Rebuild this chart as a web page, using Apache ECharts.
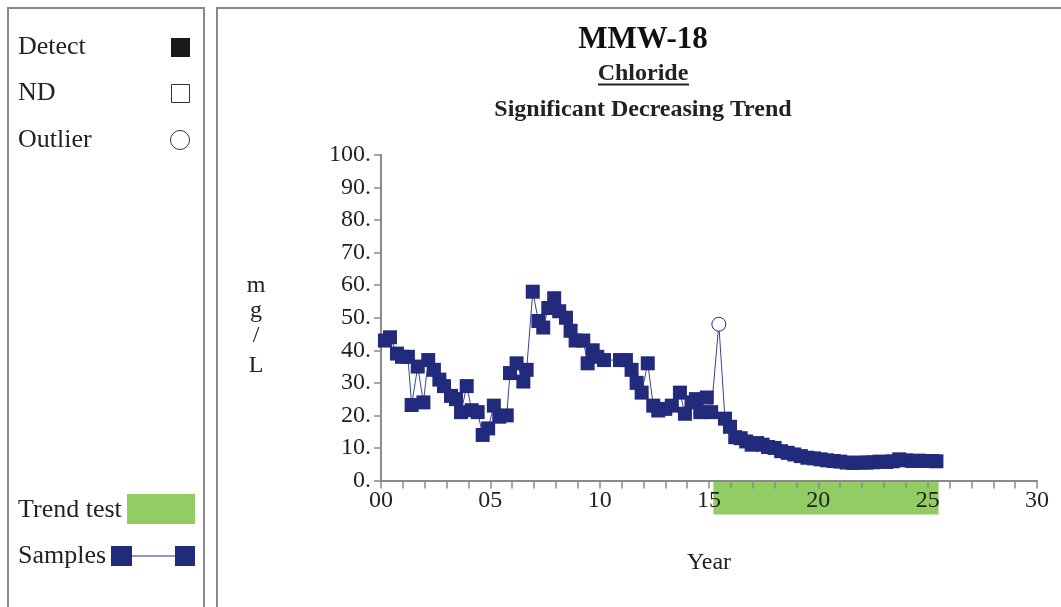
<!DOCTYPE html>
<html><head><meta charset="utf-8">
<script src="https://cdn.jsdelivr.net/npm/echarts@6/dist/echarts.min.js"></script>
<style>html,body{margin:0;padding:0;background:#fff}#c{width:1061px;height:607px}</style>
</head><body><div id="c"></div>
<script>
// ---- data ----
const years = [0.18,0.41,0.73,0.96,1.23,1.40,1.68,1.94,2.16,2.42,2.67,2.88,3.20,3.43,3.66,3.92,4.15,4.42,4.65,4.90,5.16,5.41,5.75,5.90,6.20,6.51,6.66,6.94,7.20,7.42,7.65,7.92,8.15,8.46,8.67,8.90,9.25,9.45,9.68,9.89,10.20,10.93,11.20,11.46,11.69,11.92,12.20,12.45,12.68,13.00,13.30,13.67,13.90,14.20,14.40,14.60,14.90,15.10,15.45,15.73,15.96,16.20,16.45,16.70,16.95,17.20,17.45,17.70,18.00,18.30,18.60,18.90,19.20,19.50,19.80,20.10,20.40,20.70,21.00,21.30,21.60,21.90,22.20,22.50,22.80,23.10,23.40,23.70,24.00,24.30,24.60,24.90,25.20,25.40];
const values = [43,44,39,38,38,23.2,35,24,37,34,31,29,26,25,21,29,21.6,21,14,16,23,19.6,20,33,36,30.4,34,58,49,47,53,56,52,50,46,43,43,36,40,38,37,37,37,34,30,27,36,23,21.5,22,23,27,20.5,24,25,21,25.5,21,48,19,16.5,13.3,13,12,11,11.5,11,10.3,10,9,8.5,8,7.5,7,6.8,6.5,6.2,6,5.8,5.5,5.4,5.5,5.5,5.6,5.8,5.7,5.9,6.5,6.2,6,6.1,6,6,5.9];
const outlierYears = [15.45];
const trendTest = [15.2, 25.5];
const xTicks = ['00','05','10','15','20','25','30'];
const yLabelChars = ['m','g','/','L'];

const navy = '#222a7b';
const serif = '"Liberation Serif","Times New Roman",serif';
const all = years.map((t,i)=>[t, values[i]]);
const detects = all.filter(p=>!outlierYears.includes(p[0]));
const outliers = all.filter(p=>outlierYears.includes(p[0]));

const chart = echarts.init(document.getElementById('c'));
const gray = '#8a8a8a';
const txt = (x,y,s,font,align)=>({type:'text', x:x, y:y, style:{text:s, font:font, fill:'#222', textAlign:align||'left', textVerticalAlign:'middle'}});
const graphics = [
  {type:'rect', shape:{x:8,y:8,width:196,height:620}, style:{fill:'none',stroke:gray,lineWidth:2}, z:-10},
  {type:'rect', shape:{x:217,y:8,width:860,height:620}, style:{fill:'none',stroke:gray,lineWidth:2}, z:-10},
  txt(18,47,'Detect','26px '+serif),
  {type:'rect', shape:{x:171,y:38,width:19,height:19}, style:{fill:'#1a1a1a'}},
  txt(18,93,'ND','26px '+serif),
  {type:'rect', shape:{x:171.5,y:84.5,width:18,height:18}, style:{fill:'#fff',stroke:'#333',lineWidth:1}},
  txt(18,140,'Outlier','26px '+serif),
  {type:'circle', shape:{cx:180,cy:140,r:9.5}, style:{fill:'#fff',stroke:'#333',lineWidth:1}},
  txt(18,510,'Trend test','26px '+serif),
  {type:'rect', shape:{x:127,y:494,width:68,height:30}, style:{fill:'#92cd64'}},
  txt(18,556,'Samples','26px '+serif),
  {type:'line', shape:{x1:122,y1:556,x2:185,y2:556}, style:{stroke:'#6c73b0',lineWidth:1.5}},
  {type:'rect', shape:{x:111,y:546,width:21,height:20}, style:{fill:navy}},
  {type:'rect', shape:{x:175,y:546,width:20,height:20}, style:{fill:navy}},
  {type:'text', x:643, y:40, style:{text:'MMW-18', font:'bold 31px '+serif, fill:'#111', textAlign:'center', textVerticalAlign:'middle'}},
  txt(643,74,'Chloride','bold 24px '+serif,'center'),
  {type:'line', shape:{x1:598,y1:84.5,x2:689,y2:84.5}, style:{stroke:'#222',lineWidth:2}},
  txt(643,110,'Significant Decreasing Trend','bold 24px '+serif,'center'),
  txt(709,563,'Year','24px '+serif,'center')
];
const yl = [286,311,336,366];
yLabelChars.forEach((ch,i)=>graphics.push(txt(256,yl[i],ch,'24px '+serif,'center')));

chart.setOption({
  animation:false,
  graphic: graphics,
  grid:{left:381, right:24, top:155, bottom:126.5, containLabel:false},
  xAxis:{type:'value', min:0, max:30, interval:5,
    axisLine:{onZero:false, lineStyle:{color:gray,width:2}},
    axisTick:{length:8, lineStyle:{color:gray,width:1.5}},
    minorTick:{show:true, splitNumber:5, length:8, lineStyle:{color:gray,width:1.5}},
    splitLine:{show:false},
    axisLabel:{margin:8, fontFamily:serif, fontSize:24, color:'#222', formatter:v=>xTicks[Math.round(v/5)]}},
  yAxis:{type:'value', min:0, max:100, interval:10,
    axisLine:{show:true, lineStyle:{color:gray,width:2}},
    axisTick:{show:true, length:7, lineStyle:{color:gray,width:1.5}},
    splitLine:{show:false},
    axisLabel:{margin:10, fontFamily:serif, fontSize:24, color:'#222', formatter:v=>v+'.'}},
  series:[
    {type:'custom', z:-1, clip:false, data:[trendTest],
      renderItem:(params, api)=>{
        const a = api.coord([api.value(0),0]);
        const b = api.coord([api.value(1),0]);
        return {type:'rect', shape:{x:a[0], y:a[1], width:b[0]-a[0], height:34}, style:{fill:'#92cd64'}};
      }},
    {type:'line', data:all, symbol:'none', lineStyle:{color:'#3a4290', width:1}, z:2},
    {type:'scatter', data:detects, symbol:'rect', symbolSize:14, itemStyle:{color:navy, opacity:1}, z:3},
    {type:'scatter', data:outliers, symbol:'circle', symbolSize:14, itemStyle:{color:'#fff', borderColor:navy, borderWidth:1, opacity:1}, z:3}
  ]
});
</script></body></html>
